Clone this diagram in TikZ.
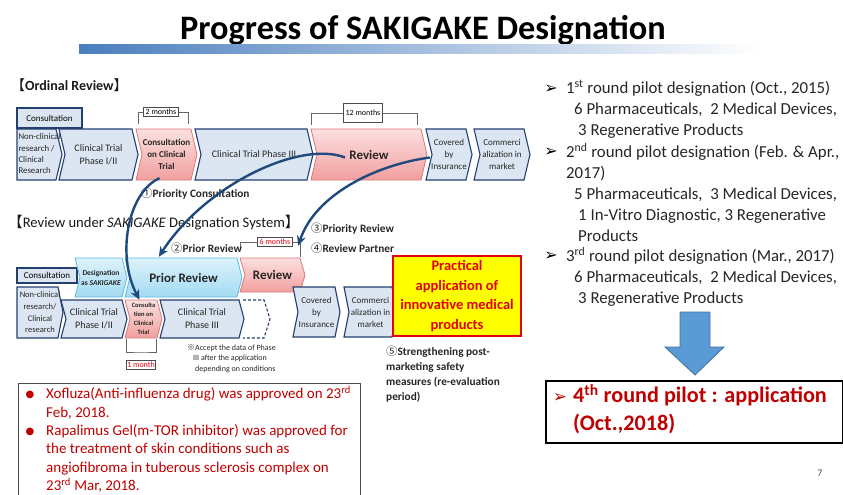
\documentclass[tikz,border=0pt]{standalone}
\usepackage{fontspec}
\setmainfont{Carlito}
\newfontfamily\cjk{Noto Sans CJK JP}
\newfontfamily\dejavu{DejaVu Sans}
\usetikzlibrary{arrows.meta,positioning,calc}

\definecolor{navy}{HTML}{243F6E}
\definecolor{paleblue}{HTML}{DCE6F2}
\definecolor{pinktop}{HTML}{FCE0E0}
\definecolor{pinkbot}{HTML}{F29F9F}
\definecolor{pinkline}{HTML}{D9797A}
\definecolor{cyantop}{HTML}{DDF3FC}
\definecolor{cyanbot}{HTML}{A3DAF2}
\definecolor{cyanline}{HTML}{5DB9E0}
\definecolor{curveblue}{HTML}{1F4A7C}
\definecolor{barblue}{HTML}{4A7EBE}
\definecolor{darkred}{HTML}{C00000}
\definecolor{brightred}{HTML}{E3000F}
\definecolor{hiyellow}{HTML}{FFFF00}
\definecolor{bigarrow}{HTML}{5B9BD5}
\definecolor{bigarrowline}{HTML}{41719C}

% depth of the chevron points
\newcommand{\tipd}{6}
% chevron: name, style, x left, x right, y top, y bottom, font, text
\newcommand{\chevron}[8]{%
  \path[#2] (#3,#5) -- ({#4-\tipd},#5) -- (#4,{(#5+#6)/2}) -- ({#4-\tipd},#6) -- (#3,#6) -- ({#3+\tipd},{(#5+#6)/2}) -- cycle;
  \node[chevtext, font=#7, minimum width={(#4-#3)*1pt}, minimum height={(#6-#5)*1pt}] (#1) at ({(#3+#4)/2},{(#5+#6)/2}) {#8};}
\newcommand{\chevronflat}[8]{%
  \path[#2] (#3,#5) -- ({#4-\tipd},#5) -- (#4,{(#5+#6)/2}) -- ({#4-\tipd},#6) -- (#3,#6) -- cycle;
  \node[chevtext, font=#7, minimum width={(#4-#3)*1pt}, minimum height={(#6-#5)*1pt}] (#1) at ({(#3+#4)/2},{(#5+#6)/2}) {#8};}

\tikzset{
  bluechev/.style={fill=paleblue, draw=navy, line width=1.1pt},
  pinkchev/.style={top color=pinktop, bottom color=pinkbot, draw=pinkline, line width=0.8pt},
  cyanchev/.style={top color=cyantop, bottom color=cyanbot, draw=cyanline, line width=0.8pt},
  chevtext/.style={align=center, inner sep=0pt, text=black!85},
  consbox/.style={draw=navy, fill=paleblue, line width=1.1pt, inner sep=0pt, font=\fontsize{9}{10}\selectfont},
  monthbox/.style={draw=black!70, fill=white, line width=0.6pt, inner xsep=2pt, inner ysep=1.5pt, font=\fontsize{8}{9}\selectfont},
  bracket/.style={draw=black!60, line width=0.6pt},
  curvarrow/.style={draw=curveblue, line width=2.4pt, -{Stealth[length=10pt,width=9pt]}},
  numlabel/.style={anchor=west, inner sep=0pt, font=\bfseries\fontsize{11.3}{15}\selectfont, text=black!85},
  hdr/.style={anchor=west, inner sep=0pt, text=black!90},
  listtext/.style={anchor=north west, inner sep=0pt, align=left, font=\fontsize{16.8}{20.9}\selectfont, text=black!85},
  arrowbul/.style={inner sep=0pt, font=\dejavu\bfseries\fontsize{16}{16}\selectfont},
}

\begin{document}
\begin{tikzpicture}[x=1pt,y=-1pt]
\useasboundingbox (0,0) rectangle (843,495);

% title
\node[font=\bfseries\fontsize{34.3}{38}\selectfont] (title) at (423,30) {Progress of SAKIGAKE Designation};
\shade[left color=barblue, right color=white] (79,45) rectangle (760,54);

% ordinal review
\node[hdr, font=\bfseries\fontsize{14}{16}\selectfont] (hdOrd) at (11,85) {{\cjk\mdseries 【}Ordinal Review{\cjk\mdseries 】}};
\node[consbox, minimum width=65, minimum height=20] (oCons) at (49.5,118) {Consultation};
\chevronflat{oNC}{bluechev}{17}{62}{129}{180}{\fontsize{8.8}{11.3}\selectfont}{\begin{tabular}{@{}l@{}}Non-clinical\\research /\\Clinical\\Research\end{tabular}}
\chevron{oP12}{bluechev}{59}{138}{129}{180}{\fontsize{10}{12.5}\selectfont}{Clinical Trial\\Phase I/II}
\chevron{oCC}{pinkchev}{136}{197}{129}{180}{\bfseries\fontsize{9}{12}\selectfont}{Consultation\\on Clinical\\Trial}
\chevron{oP3}{bluechev}{195}{313}{129}{180}{\fontsize{10}{12}\selectfont}{Clinical Trial Phase III}
\chevron{oRV}{pinkchev}{311}{427}{129}{180}{\bfseries\fontsize{13}{15}\selectfont}{Review}
\chevron{oIns}{bluechev}{426}{472}{129}{180}{\fontsize{9}{12}\selectfont}{Covered\\by\\Insurance}
\chevron{oCom}{bluechev}{474}{530}{129}{180}{\fontsize{9}{12}\selectfont}{Commerci\\alization in\\market}

\node[monthbox] (m2) at (161,112) {2 months};
\draw[bracket] (138,124) |- (m2.west);
\draw[bracket] (m2.east) -| (188,124);
\node[monthbox, minimum height=19] (m12) at (363,113) {12 months};
\draw[bracket] (311,125) |- (m12.west);
\draw[bracket] (m12.east) -| (417,125);

\node[numlabel] (lb1) at (141,194) {{\cjk\mdseries ①}Priority Consultation};

% review under sakigake
\node[hdr, font=\fontsize{14.6}{16}\selectfont] (hdSak) at (8,223) {{\cjk 【}Review under \textit{SAKIGAKE} Designation System{\cjk 】}};
\renewcommand{\tipd}{5}
\node[consbox, minimum width=60, minimum height=15] (sCons) at (47,275.5) {Consultation};
\chevron{sDes}{cyanchev}{75}{127}{258}{297}{\bfseries\fontsize{7.5}{10}\selectfont}{Designation\\as \textit{SAKIGAKE}}
\chevron{sPR}{cyanchev}{125}{242}{258}{297}{\bfseries\fontsize{13}{15}\selectfont}{Prior Review}
\chevron{sRV}{pinkchev}{240}{305}{258}{292}{\bfseries\fontsize{13}{15}\selectfont}{Review}
\chevronflat{sNC}{bluechev}{17}{63}{287}{338}{\fontsize{8.5}{11.7}\selectfont}{Non-clinical\\research/\\Clinical\\research}
\chevron{sP12}{bluechev}{61}{127}{300}{338}{\fontsize{10}{13}\selectfont}{Clinical Trial\\Phase I/II}
\chevron{sCC}{pinkchev}{125}{162}{300}{338}{\bfseries\fontsize{6.5}{9}\selectfont}{Consulta\\tion on\\Clinical\\Trial}
\chevron{sP3}{bluechev}{160}{244}{300}{338}{\fontsize{10}{13}\selectfont}{Clinical Trial\\Phase III}
% possible shortening of phase III
\draw[navy, line width=1.1pt, dash pattern=on 3pt off 2pt] (243,300) -- (264,300) -- (270,319) -- (264,338) -- (243,338);
\chevron{sIns}{bluechev}{293}{340}{287}{337}{\fontsize{9}{12}\selectfont}{Covered\\by\\Insurance}
\chevron{sCom}{bluechev}{344}{397}{287}{337}{\fontsize{9}{12}\selectfont}{Commerci\\alization in\\market}

\node[draw=brightred, fill=hiyellow, line width=1.8pt, minimum width=128, minimum height=80, align=center, inner sep=0pt,
      text=brightred, font=\bfseries\fontsize{14.5}{19.5}\selectfont] (prac) at (457,296) {Practical\\application of\\innovative medical\\products};

\node[monthbox, text=brightred] (m6) at (275,242) {6 months};
\draw[bracket] (240,250) |- (m6.west);
\draw[bracket] (m6.east) -| (300,257);
\node[monthbox, text=brightred, inner xsep=1pt] (m1) at (141,365) {1 month};
\draw[bracket] (126,339) |- (141,352) -| (156,339);

\node[numlabel] (lb2) at (171,248) {{\cjk\mdseries ②}Prior Review};
\node[numlabel] (lb3) at (311,229) {{\cjk\mdseries ③}Priority Review};
\node[numlabel] (lb4) at (311,248) {{\cjk\mdseries ④}Review Partner};
\node[numlabel, anchor=north west, align=left] (lb5) at (386,346) {{\cjk\mdseries ⑤}Strengthening post-\\marketing safety\\measures (re-evaluation\\period)};
\node[anchor=north west, inner sep=0pt, align=left, font=\fontsize{8}{10.5}\selectfont, text=black!85] (acc) at (187,344)
  {{\cjk ※}Accept the data of Phase\\\hspace*{6pt}III after the application\\\hspace*{8pt}depending on conditions};

% curved arrows
\draw[curvarrow] ($(oCC.south)+(-7,-2)$) .. controls (128,192) and (116,255) .. ($(sCC.north)+(-4,0)$);
\draw[curvarrow] ($(oRV.center)+(-24,3)$) .. controls (300,140) and (205,185) .. ($(sPR.north west)+(34,-1)$);
\draw[curvarrow] ($(oIns.west)+(4,3)$) .. controls (375,165) and (315,195) .. ($(sRV.north east)+(-7,-12)$);

% approvals
\node[draw=black!70, line width=0.8pt, minimum width=342, minimum height=130, anchor=north west] (appr) at (18,383) {};
\node[text=darkred, font=\dejavu\fontsize{10}{10}\selectfont, inner sep=0pt] (d1) at (30,395) {●};
\node[text=darkred, font=\dejavu\fontsize{10}{10}\selectfont, inner sep=0pt] (d2) at (30,432) {●};
\node[anchor=north west, inner sep=0pt, align=left, text=darkred, font=\fontsize{15}{18.4}\selectfont] (apprtxt) at (46,386)
  {Xofluza(Anti-influenza drug) was approved on 23\textsuperscript{rd}\\Feb, 2018.\\Rapalimus Gel(m-TOR inhibitor) was approved for\\the treatment of skin conditions such as\\angiofibroma in tuberous sclerosis complex on\\23\textsuperscript{rd} Mar, 2018.};

% pilot rounds
\node[listtext] (r1) at (566,80) {1\textsuperscript{st} round pilot designation (Oct., 2015)\\\hspace*{8pt}6 Pharmaceuticals,\ \ 2 Medical Devices,\\\hspace*{12pt}3 Regenerative Products};
\node[listtext] (r2) at (566,142.8) {2\textsuperscript{nd} round pilot designation (Feb. \& Apr.,\\2017)\\\hspace*{8pt}5 Pharmaceuticals,\ \ 3 Medical Devices,\\\hspace*{12pt}1 In-Vitro Diagnostic, 3 Regenerative\\\hspace*{12pt}Products};
\node[listtext] (r3) at (566,247.3) {3\textsuperscript{rd} round pilot designation (Mar., 2017)\\\hspace*{8pt}6 Pharmaceuticals,\ \ 2 Medical Devices,\\\hspace*{12pt}3 Regenerative Products};
\node[arrowbul] (b1) at (551,89) {➢};
\node[arrowbul] (b2) at (551,152) {➢};
\node[arrowbul] (b3) at (551,256) {➢};

\path[fill=bigarrow, draw=bigarrowline, line width=0.8pt] (680,312) -- (710,312) -- (710,347) -- (724,347) -- (695,375) -- (665,347) -- (680,347) -- cycle;

\node[draw=black, line width=1.8pt, minimum width=297, minimum height=62, anchor=north west] (r4) at (545,380) {};
\node[arrowbul, text=darkred, font=\dejavu\bfseries\fontsize{17}{17}\selectfont] (b4) at (560,398) {➢};
\node[anchor=north west, inner sep=0pt, align=left, text=darkred, font=\bfseries\fontsize{22.2}{28}\selectfont] (r4txt) at (573,384)
  {4\textsuperscript{th} round pilot : application\\(Oct.,2018)};

\node[font=\fontsize{10}{12}\selectfont, text=black!70] (pg) at (820,473) {7};
\end{tikzpicture}
\end{document}
